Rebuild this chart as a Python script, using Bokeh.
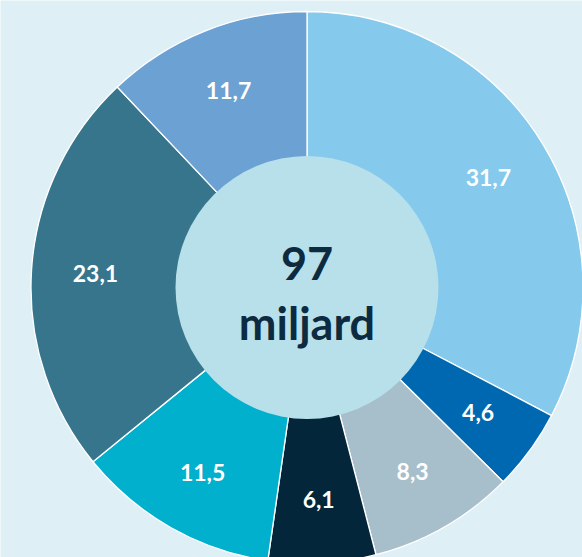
import math
from bokeh.plotting import figure
from bokeh.models import Range1d, ColumnDataSource
from bokeh.core.properties import value
from bokeh.embed import file_html
from bokeh.resources import INLINE

# Data (clockwise from 12 o'clock)
values = [31.7, 4.6, 8.3, 6.1, 11.5, 23.1, 11.7]
labels = ["31,7", "4,6", "8,3", "6,1", "11,5", "23,1", "11,7"]
colors = ["#85c9ec", "#0068b0", "#a7bfcb", "#03263b", "#00b0cc", "#37758d", "#6ca1d3"]
center_lines = ["97", "miljard"]

W, H = 582, 557
cx, cy = 306.5, H - 287.0
r_out, r_in = 276.0, 131.5
label_r = 212.0

total = sum(values)
starts, ends, lx, ly = [], [], [], []
cum = 0.0
for v in values:
    a0 = math.pi / 2 - cum / total * 2 * math.pi
    cum += v
    a1 = math.pi / 2 - cum / total * 2 * math.pi
    starts.append(a0)
    ends.append(a1)
    mid = (a0 + a1) / 2
    lx.append(cx + label_r * math.cos(mid))
    ly.append(cy + label_r * math.sin(mid))

src = ColumnDataSource(dict(start=starts, end=ends, color=colors, label=labels, lx=lx, ly=ly))

p = figure(width=W, height=H, output_backend="svg", toolbar_location=None,
           x_range=Range1d(0, W), y_range=Range1d(0, H), min_border=0)
p.axis.visible = False
p.grid.visible = False
p.outline_line_color = None
p.background_fill_color = "#dfeff6"
p.border_fill_color = "#dfeff6"

p.annular_wedge(x=cx, y=cy, inner_radius=r_in - 5, outer_radius=r_out,
                start_angle="start", end_angle="end", direction="clock",
                fill_color="color", line_color="white", line_width=1.3, source=src)
p.scatter(x=[cx], y=[cy], size=2 * r_in, marker="circle",
          fill_color="#b8e0ea", line_color=None)

p.text(x="lx", y="ly", text="label", source=src, text_color="white",
       text_font=value("Lato"), text_font_style="bold", text_font_size="23px",
       text_align="center", text_baseline="middle")

p.text(x=[cx, cx], y=[cy + 24, cy - 35], text=center_lines, text_color="#0c2b40",
       text_font=value("Lato"), text_font_style="bold", text_font_size="45px",
       text_align="center", text_baseline="middle")

open("out.html", "w").write(file_html(p, INLINE))
